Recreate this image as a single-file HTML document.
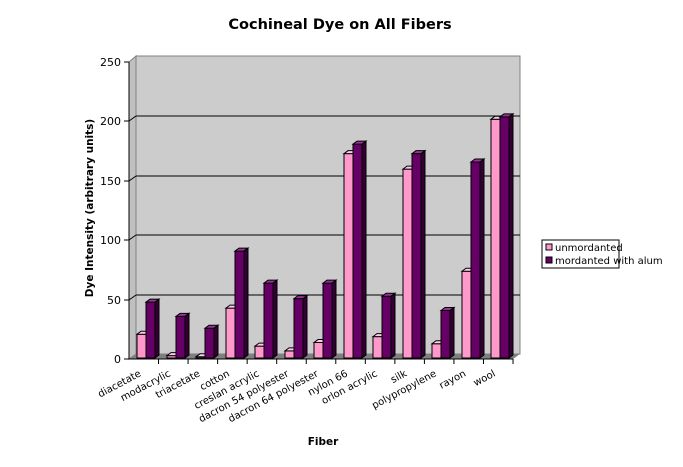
<!DOCTYPE html>
<html><head><style>body{margin:0;background:#fff}svg{display:block}</style></head><body>
<svg width="683" height="467" xmlns="http://www.w3.org/2000/svg" font-family="DejaVu Sans, Liberation Sans, sans-serif">
<rect width="683" height="467" fill="#fff"/>
<text x="340" y="29" text-anchor="middle" font-size="14.5" font-weight="bold">Cochineal Dye on All Fibers</text>
<polygon points="136,56 520,56 520,354 136,354" fill="#cccccc" stroke="#808080"/>
<polygon points="129,62 136,56 136,354 129,359" fill="#c0c0c0" stroke="#808080"/>
<polygon points="129,359 136,354 520,354 513,359" fill="#808080"/>
<g stroke="#000">
<line x1="136" y1="116" x2="520" y2="116"/><line x1="136" y1="176" x2="520" y2="176"/>
<line x1="136" y1="235" x2="520" y2="235"/><line x1="136" y1="295" x2="520" y2="295"/>
<line x1="129" y1="121" x2="136" y2="116"/><line x1="129" y1="181" x2="136" y2="176"/>
<line x1="129" y1="240" x2="136" y2="235"/><line x1="129" y1="300" x2="136" y2="295"/>
<line x1="129" y1="62" x2="129" y2="359"/><line x1="129" y1="359" x2="513" y2="359"/>
<line x1="124" y1="62" x2="129" y2="62"/><line x1="124" y1="121" x2="129" y2="121"/><line x1="124" y1="181" x2="129" y2="181"/><line x1="124" y1="240" x2="129" y2="240"/><line x1="124" y1="300" x2="129" y2="300"/><line x1="124" y1="359" x2="129" y2="359"/>
</g>
<g font-size="11" text-anchor="end"><text x="121" y="66">250</text><text x="121" y="125">200</text><text x="121" y="185">150</text><text x="121" y="244">100</text><text x="121" y="304">50</text><text x="121" y="363">0</text></g>
<g id="bars"></g>
<g id="labels" font-size="10"></g>
<text transform="translate(93,208) rotate(-90)" text-anchor="middle" font-size="10.5" font-weight="bold">Dye Intensity (arbitrary units)</text>
<text x="323" y="445" text-anchor="middle" font-size="10.5" font-weight="bold">Fiber</text>
<rect x="542" y="240" width="77" height="28" fill="#fff" stroke="#000"/>
<rect x="546" y="244" width="6" height="6" fill="#ff99cc" stroke="#000"/>
<rect x="546" y="257" width="6" height="6" fill="#660066" stroke="#000"/>
<text x="555" y="251" font-size="10">unmordanted</text>
<text x="555" y="264" font-size="10">mordanted with alum</text>
<script>
var d=[["diacetate",20,47],["modacrylic",2,35],["triacetate",1,25],["cotton",42,90],["creslan acrylic",10,63],["dacron 54 polyester",6,50],["dacron 64 polyester",13,63],["nylon 66",172,180],["orlon acrylic",18,52],["silk",159,172],["polypropylene",12,40],["rayon",73,165],["wool",201,203]];
var ns="http://www.w3.org/2000/svg",g=document.getElementById("bars"),L=document.getElementById("labels");
function poly(p,f){var e=document.createElementNS(ns,"polygon");e.setAttribute("points",p);e.setAttribute("fill",f);e.setAttribute("stroke","#000");e.setAttribute("stroke-width","1");g.appendChild(e);}
function bar(x,v,c,top,side){var w=9,y0=358,y=y0-v*297/250,dx=4,dy=3;
poly(x+","+y+" "+(x+w)+","+y+" "+(x+w)+","+y0+" "+x+","+y0,c);
poly(x+","+y+" "+(x+dx)+","+(y-dy)+" "+(x+w+dx)+","+(y-dy)+" "+(x+w)+","+y,top);
poly((x+w)+","+y+" "+(x+w+dx)+","+(y-dy)+" "+(x+w+dx)+","+(y0-dy)+" "+(x+w)+","+y0,side);}
var cw=29.54;
d.forEach(function(r,i){var x0=129+i*cw;
bar(Math.round(x0+8),r[1],"#ff99cc","#ffccee","#cc6699");
bar(Math.round(x0+17),r[2],"#660066","#993399","#330033");
var t=document.createElementNS(ns,"line");t.setAttribute("x1",x0+cw);t.setAttribute("x2",x0+cw);t.setAttribute("y1",359);t.setAttribute("y2",364);t.setAttribute("stroke","#000");g.appendChild(t);
var tx=document.createElementNS(ns,"text");var cx=x0+cw/2-4,cy=372;
tx.setAttribute("transform","translate("+cx+","+cy+") rotate(-28)");tx.setAttribute("text-anchor","end");tx.setAttribute("dy","4");tx.textContent=r[0];L.appendChild(tx);});
</script>
</svg>
</body></html>
